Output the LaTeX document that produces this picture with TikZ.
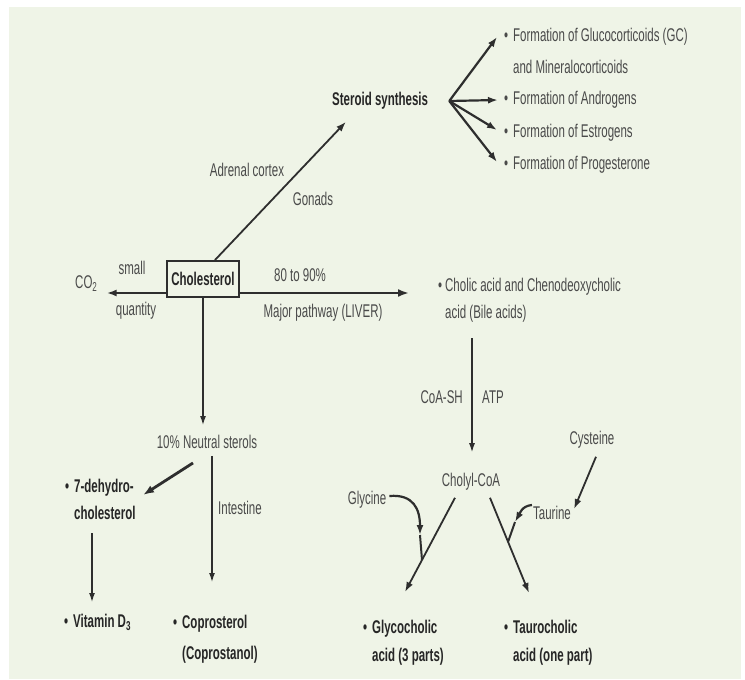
\documentclass[tikz,border=0pt]{standalone}
\usepackage{fontspec}
\setmainfont[FakeStretch=0.625]{Liberation Sans}
\usetikzlibrary{arrows.meta,calc}
\definecolor{bg}{HTML}{EFF4E7}
\definecolor{tx}{HTML}{4A4A4A}
\definecolor{bt}{HTML}{262626}
\definecolor{ar}{HTML}{2E2E2E}
\begin{document}
\begin{tikzpicture}[x=1pt,y=-1pt,
  txt/.style={font=\fontsize{18.4}{28}\selectfont, text=tx, inner sep=0pt, align=left},
  btxt/.style={txt, font=\fontsize{18.4}{28}\selectfont\bfseries, text=bt},
  arrT/.style={draw=ar, line width=1.3pt, -{Latex[length=9pt,width=6pt]}},
  arrA/.style={draw=ar, line width=1.8pt, -{Latex[length=10pt,width=7pt]}},
  arrB/.style={draw=ar, line width=2.2pt, -{Latex[length=10pt,width=7pt]}},
  arrC/.style={draw=ar, line width=2.8pt, -{Latex[length=11pt,width=8pt]}},
  plain/.style={draw=ar, line width=2pt}
]
\useasboundingbox (0,0) rectangle (745,680);
\fill[bg] (9,7) rectangle (741,679);

% top right
\node[btxt, anchor=west] (steroid) at (332,101) {Steroid synthesis};
\node[txt, anchor=north west, font=\fontsize{18.4}{32}\selectfont] (gc) at (513,28)
  {\llap{•\hspace{5pt}}Formation of Glucocorticoids (GC)\\and Mineralocorticoids};
\node[txt, anchor=west] (andro) at (513,100) {\llap{•\hspace{5pt}}Formation of Androgens};
\node[txt, anchor=west] (estro) at (513,133) {\llap{•\hspace{5pt}}Formation of Estrogens};
\node[txt, anchor=west] (proge) at (513,165) {\llap{•\hspace{5pt}}Formation of Progesterone};

% centre row
\node[btxt, draw=ar, line width=2pt, minimum width=72pt, minimum height=36pt] (chol) at (203,279) {Cholesterol};
\node[txt, anchor=west] (co2) at (75,284) {CO\textsubscript{2}};
\node[txt] (small) at (132,268) {small};
\node[txt] (quant) at (136,311) {quantity};
\node[txt] (p80) at (300,275) {80 to 90\%};
\node[txt] (major) at (323,313) {Major pathway (LIVER)};
\node[txt] (adrenal) at (247,170) {Adrenal cortex};
\node[txt] (gonads) at (313,199) {Gonads};
\node[txt, anchor=north west, font=\fontsize{18.4}{27}\selectfont] (cholic) at (445,278)
  {\llap{•\hspace{3pt}}Cholic acid and Chenodeoxycholic\\acid (Bile acids)};

% right lower
\node[txt, anchor=east] (coash) at (463,397) {CoA-SH};
\node[txt, anchor=west] (atp) at (482,397) {ATP};
\node[txt] (cholyl) at (471,482) {Cholyl-CoA};
\node[txt] (cys) at (592,440) {Cysteine};
\node[txt] (glycine) at (367,500) {Glycine};
\node[txt] (taurine) at (552,513) {Taurine};
\node[btxt, anchor=north west] (glyco) at (372,620) {\llap{•\hspace{5pt}}Glycocholic\\acid (3 parts)};
\node[btxt, anchor=north west] (tauro) at (513,620) {\llap{•\hspace{5pt}}Taurocholic\\acid (one part)};

% left lower
\node[txt] (neutral) at (207,442) {10\% Neutral sterols};
\node[btxt, anchor=north west, font=\fontsize{18.4}{27}\selectfont\bfseries] (dehydro) at (74,479)
  {\llap{•\hspace{5pt}}7-dehydro-\\cholesterol};
\node[txt, anchor=west] (intest) at (218,508) {Intestine};
\node[btxt, anchor=west] (vitd) at (73,622) {\llap{•\hspace{5pt}}Vitamin D\textsubscript{3}};
\node[btxt, anchor=north west, font=\fontsize{18.4}{31}\selectfont\bfseries] (copro) at (182,615)
  {\llap{•\hspace{5pt}}Coprosterol\\(Coprostanol)};

% connectors
\coordinate (fork) at ($(steroid.east)+(21,0)$);
\draw[arrA] ($(chol.north)+(12,0)$) -- ($(steroid.south west)+(14,12)$);
\draw[arrB] (fork) -- ($(gc.north west)+(-16,9)$);
\draw[arrB] (fork) -- ($(andro.west)+(-15,0)$);
\draw[arrB] (fork) -- ($(estro.west)+(-16,-3)$);
\draw[arrB] (fork) -- ($(proge.west)+(-16,-3)$);

\draw[arrB] ($(chol.west)+(0,14)$) -- ($(co2.east)+(9,9)$);
\draw[arrC] ($(chol.east)+(0,14)$) -- ($(cholic.north west)+(-36,15)$);

\draw[arrT] (chol.south) -- ($(neutral.north)+(-4,-10)$);
\draw[arrC] ($(neutral.south)+(-14,14)$) -- ($(dehydro.north west)+(69,16)$);
\draw[arrT] ($(neutral.south)+(5,7)$) -- ($(copro.north west)+(30,-33)$);
\draw[arrT] ($(dehydro.north west)+(18,54)$) -- ($(vitd.west)+(19,-20)$);

\draw[arrT] ($(cholic.north west)+(27,60)$) -- ($(cholyl.north)+(1,-21)$);
\draw[arrA] ($(cys.south)+(4,8)$) -- ($(taurine.north east)+(3,3)$);

\coordinate (cl) at ($(cholyl.south)+(-16,7)$);
\coordinate (cr) at ($(cholyl.south)+(19,7)$);
\coordinate (gl) at ($(glyco.north west)+(33,-28)$);
\coordinate (tl) at ($(tauro.north west)+(16,-27)$);
\draw[arrA] (cl) -- (gl);
\draw[arrA] (cr) -- (tl);

\coordinate (gs) at ($(glycine.east)+(3,-4)$);
\coordinate (gt) at ($(glyco.north west)+(48,-85)$);
\draw[arrB] (gs) .. controls ($(gs)+(24,-2)$) and ($(gt)+(0,-26)$) .. (gt);
\draw[plain] (gt) -- ($(cl)!0.66!(gl)$);

\coordinate (ts) at ($(taurine.west)+(-1,-8)$);
\coordinate (tt) at ($(tauro.north west)+(2,-98)$);
\draw[arrB] (ts) .. controls ($(ts)+(-10,1)$) and ($(tt)+(5,-9)$) .. (tt);
\draw[plain] (tt) -- ($(cr)!0.463!(tl)$);
\end{tikzpicture}
\end{document}
